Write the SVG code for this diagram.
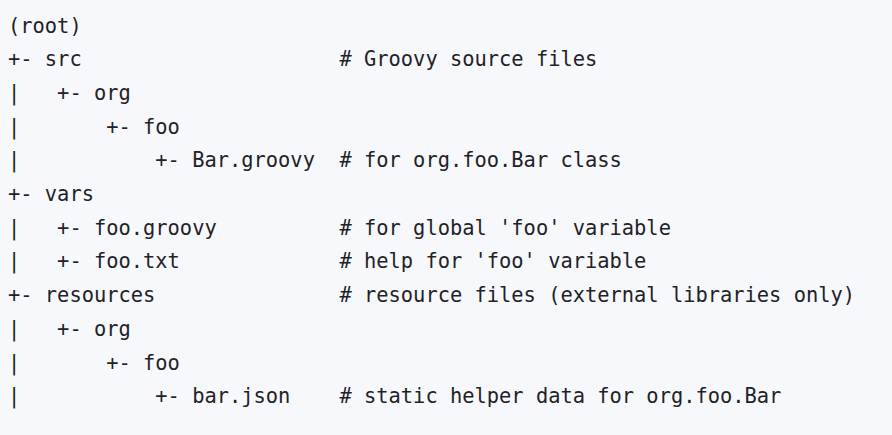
<svg xmlns="http://www.w3.org/2000/svg" width="892" height="435" viewBox="0 0 892 435">
<style>
text{font-family:"DejaVu Sans Mono","Liberation Mono",monospace;font-size:20.4px;fill:#1f2328;white-space:pre}
</style>
<rect x="0" y="0" width="892" height="435" fill="#f7f8fb"/>
<g id="tree" xml:space="preserve">
<text x="8" y="32.5">(root)</text>
<text x="8" y="66.2">+- src                     # Groovy source files</text>
<text x="8" y="99.9">|   +- org</text>
<text x="8" y="133.6">|       +- foo</text>
<text x="8" y="167.3">|           +- Bar.groovy  # for org.foo.Bar class</text>
<text x="8" y="201">+- vars</text>
<text x="8" y="234.7">|   +- foo.groovy          # for global 'foo' variable</text>
<text x="8" y="268.4">|   +- foo.txt             # help for 'foo' variable</text>
<text x="8" y="302.1">+- resources               # resource files (external libraries only)</text>
<text x="8" y="335.8">|   +- org</text>
<text x="8" y="369.5">|       +- foo</text>
<text x="8" y="403.2">|           +- bar.json    # static helper data for org.foo.Bar</text>
</g>
</svg>
